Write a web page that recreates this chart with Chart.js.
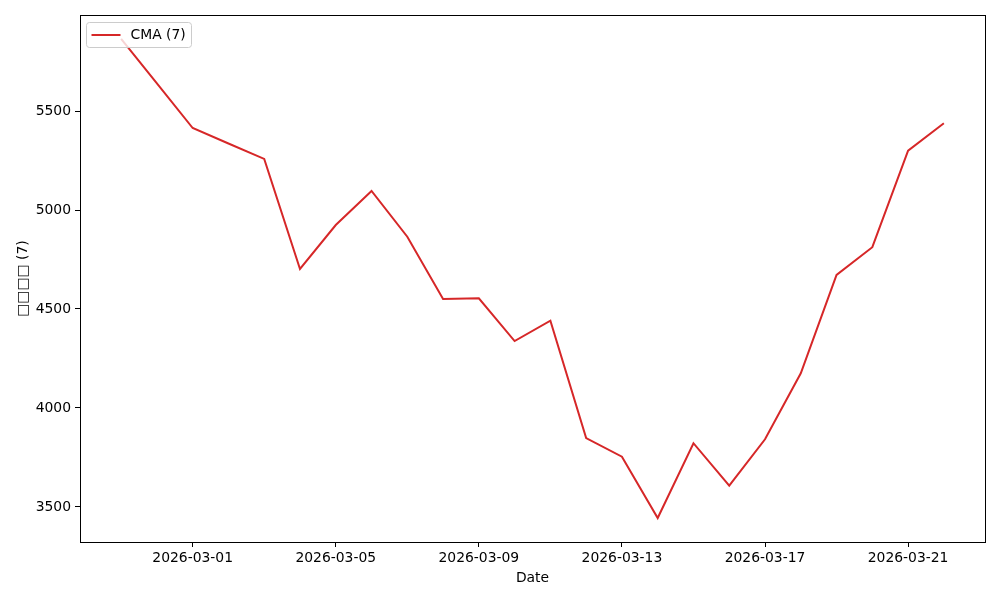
<!DOCTYPE html>
<html>
<head>
<meta charset="utf-8">
<script src="https://cdn.jsdelivr.net/npm/chart.js@4/dist/chart.umd.min.js"></script>
<style>
  html, body { margin: 0; padding: 0; background: #fff; }
  #wrap { width: 1000px; height: 600px; }
</style>
</head>
<body>
<div id="wrap"><canvas id="chart" width="1000" height="600"></canvas></div>
<script>
// data
const dates = [
  '2026-02-27', '2026-02-28', '2026-03-01', '2026-03-02', '2026-03-03', '2026-03-04',
  '2026-03-05', '2026-03-06', '2026-03-07', '2026-03-08', '2026-03-09', '2026-03-10',
  '2026-03-11', '2026-03-12', '2026-03-13', '2026-03-14', '2026-03-15', '2026-03-16',
  '2026-03-17', '2026-03-18', '2026-03-19', '2026-03-20', '2026-03-21', '2026-03-22'
];
const cmaValues = [
  5864, 5639, 5414, 5336, 5258, 4702,
  4924, 5096, 4865, 4551, 4554, 4338,
  4441, 3848, 3754, 3444, 3822, 3608,
  3842, 4175, 4672, 4812, 5300, 5438
];
const xTickLabels = ['2026-03-01', '2026-03-05', '2026-03-09', '2026-03-13', '2026-03-17', '2026-03-21'];
const yTickValues = [3500, 4000, 4500, 5000, 5500];
const seriesLabel = 'CMA (7)';
const yTitle = '□□□□ (7)';
const xTitle = 'Date';

const DAY = 86400000;
const toDay = (s) => Date.parse(s + 'T00:00:00Z') / DAY;
const fromDay = (d) => new Date(d * DAY).toISOString().slice(0, 10);

const points = dates.map((d, i) => ({ x: toDay(d), y: cmaValues[i] }));
const xs = points.map((p) => p.x);
const xMin = Math.min(...xs), xMax = Math.max(...xs);
const xPad = (xMax - xMin) * 0.05;
const yLo = Math.min(...cmaValues), yHi = Math.max(...cmaValues);
const yPad = (yHi - yLo) * 0.05;

const FONT = 'DejaVu Sans, sans-serif';
const FS = 13.9;

// frame around the plot area + matplotlib style legend inside it
const framePlugin = {
  id: 'frame',
  afterDraw(chart) {
    const { ctx, chartArea: a } = chart;
    ctx.save();
    ctx.strokeStyle = '#000';
    ctx.lineWidth = 1;
    ctx.strokeRect(Math.round(a.left) + 0.5, Math.round(a.top) + 0.5,
      Math.round(a.right - a.left), Math.round(a.bottom - a.top));

    // legend
    const ds = chart.data.datasets[0];
    const bx = a.left + 6.5, by = a.top + 7.5, bw = 105, bh = 25;
    ctx.beginPath();
    ctx.roundRect(bx, by, bw, bh, 3);
    ctx.fillStyle = 'rgba(255,255,255,0.8)';
    ctx.fill();
    ctx.strokeStyle = '#cccccc';
    ctx.stroke();
    ctx.beginPath();
    ctx.moveTo(bx + 5, by + 12.5);
    ctx.lineTo(bx + 34, by + 12.5);
    ctx.strokeStyle = ds.borderColor;
    ctx.lineWidth = 2;
    ctx.stroke();
    ctx.fillStyle = '#000';
    ctx.font = FS + 'px ' + FONT;
    ctx.textBaseline = 'middle';
    ctx.fillText(ds.label, bx + 44, by + 13);
    ctx.restore();
  }
};

new Chart(document.getElementById('chart').getContext('2d'), {
  type: 'line',
  data: {
    datasets: [{
      label: seriesLabel,
      data: points,
      borderColor: '#d62728',
      borderWidth: 2,
      pointRadius: 0,
      tension: 0,
      fill: false
    }]
  },
  options: {
    responsive: false,
    animation: false,
    layout: { padding: { top: 15, right: 15, left: 0, bottom: 0 } },
    plugins: {
      legend: { display: false },
      tooltip: { enabled: false }
    },
    scales: {
      x: {
        type: 'linear',
        min: xMin - xPad,
        max: xMax + xPad,
        afterBuildTicks(axis) {
          axis.ticks = xTickLabels.map((s) => ({ value: toDay(s) }));
        },
        afterFit(axis) { axis.height = 58; },
        ticks: {
          callback: (v) => fromDay(v),
          color: '#000',
          font: { family: FONT, size: FS },
          padding: 3,
          maxRotation: 0,
          autoSkip: false
        },
        grid: { display: true, drawOnChartArea: false, drawTicks: true, tickLength: 5, color: '#000' },
        border: { display: true, color: '#000' },
        title: {
          display: true,
          text: xTitle,
          color: '#000',
          font: { family: FONT, size: FS },
          padding: { top: 2, bottom: 13 }
        }
      },
      y: {
        type: 'linear',
        min: yLo - yPad,
        max: yHi + yPad,
        afterBuildTicks(axis) {
          axis.ticks = yTickValues.map((v) => ({ value: v }));
        },
        afterFit(axis) { axis.width = 80; },
        ticks: {
          callback: (v) => String(v),
          color: '#000',
          font: { family: FONT, size: FS },
          padding: 4
        },
        grid: { display: true, drawOnChartArea: false, drawTicks: true, tickLength: 5, color: '#000' },
        border: { display: true, color: '#000' },
        title: {
          display: true,
          text: yTitle,
          color: '#000',
          font: { family: FONT, size: FS },
          padding: { top: 15.5, bottom: 4 }
        }
      }
    }
  },
  plugins: [framePlugin]
});
</script>
</body>
</html>
